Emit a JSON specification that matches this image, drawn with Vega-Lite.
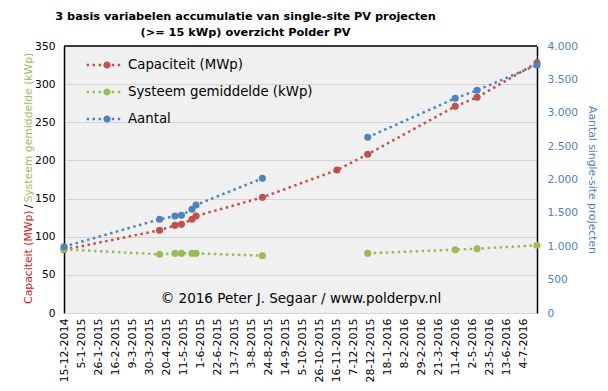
{
  "$schema": "https://vega.github.io/schema/vega-lite/v6.json",
  "width": 473,
  "height": 267,
  "autosize": {"type": "none"},
  "padding": {"left": 64, "top": 46, "right": 71, "bottom": 78},
  "background": "white",
  "title": {
    "text": ["3 basis variabelen accumulatie van single-site PV projecten", "(>= 15 kWp) overzicht Polder PV"],
    "fontSize": 11.3,
    "fontWeight": "bold",
    "color": "black",
    "anchor": "middle",
    "frame": "group",
    "dx": -55,
    "offset": 2,
    "lineHeight": 16
  },
  "data": {
    "values": [
      {"date": "2014-12-15", "cap": 82.9, "avg": 83.5, "aantal": 993},
      {"date": "2015-04-12", "cap": 108.4, "avg": 76.9, "aantal": 1404},
      {"date": "2015-05-01", "cap": 114.9, "avg": 78.2, "aantal": 1453},
      {"date": "2015-05-09", "cap": 116.2, "avg": 78.2, "aantal": 1463},
      {"date": "2015-05-22", "cap": 122.8, "avg": 78.2, "aantal": 1553},
      {"date": "2015-05-27", "cap": 127.1, "avg": 78.2, "aantal": 1618},
      {"date": "2015-08-17", "cap": 151.6, "avg": 75.1, "aantal": 2018},
      {"date": "2015-11-17", "cap": 187.4, "avg": null, "aantal": null},
      {"date": "2015-12-25", "cap": 208.0, "avg": 78.2, "aantal": 2632},
      {"date": "2016-04-11", "cap": 270.9, "avg": 83.0, "aantal": 3216},
      {"date": "2016-05-08", "cap": 282.7, "avg": 84.3, "aantal": 3336},
      {"date": "2016-07-21", "cap": 328.0, "avg": 88.7, "aantal": 3715}
    ]
  },
  "layer": [
    {
      "encoding": {
        "x": {
          "field": "date", "type": "temporal",
          "scale": {"type": "utc", "domain": [{"year": 2014, "month": 12, "date": 15, "utc": true}, {"year": 2016, "month": 7, "date": 21, "utc": true}]},
          "axis": {
            "values": [
              {"year": 2014, "month": 12, "date": 15, "utc": true},
              {"year": 2015, "month": 1, "date": 5, "utc": true},
              {"year": 2015, "month": 1, "date": 26, "utc": true},
              {"year": 2015, "month": 2, "date": 16, "utc": true},
              {"year": 2015, "month": 3, "date": 9, "utc": true},
              {"year": 2015, "month": 3, "date": 30, "utc": true},
              {"year": 2015, "month": 4, "date": 20, "utc": true},
              {"year": 2015, "month": 5, "date": 11, "utc": true},
              {"year": 2015, "month": 6, "date": 1, "utc": true},
              {"year": 2015, "month": 6, "date": 22, "utc": true},
              {"year": 2015, "month": 7, "date": 13, "utc": true},
              {"year": 2015, "month": 8, "date": 3, "utc": true},
              {"year": 2015, "month": 8, "date": 24, "utc": true},
              {"year": 2015, "month": 9, "date": 14, "utc": true},
              {"year": 2015, "month": 10, "date": 5, "utc": true},
              {"year": 2015, "month": 10, "date": 26, "utc": true},
              {"year": 2015, "month": 11, "date": 16, "utc": true},
              {"year": 2015, "month": 12, "date": 7, "utc": true},
              {"year": 2015, "month": 12, "date": 28, "utc": true},
              {"year": 2016, "month": 1, "date": 18, "utc": true},
              {"year": 2016, "month": 2, "date": 8, "utc": true},
              {"year": 2016, "month": 2, "date": 29, "utc": true},
              {"year": 2016, "month": 3, "date": 21, "utc": true},
              {"year": 2016, "month": 4, "date": 11, "utc": true},
              {"year": 2016, "month": 5, "date": 2, "utc": true},
              {"year": 2016, "month": 5, "date": 23, "utc": true},
              {"year": 2016, "month": 6, "date": 13, "utc": true},
              {"year": 2016, "month": 7, "date": 4, "utc": true}
            ],
            "tickCount": 40,
            "format": "%-d-%-m-%Y",
            "labelOverlap": false,
            "title": "© 2016 Peter J. Segaar / www.polderpv.nl",
            "titleFontSize": 13.5, "titleFontWeight": "normal", "titleColor": "black",
            "titleX": 236.5, "titleY": -11, "titleAlign": "center", "titleBaseline": "alphabetic", "titleAngle": 0
          }
        },
        "y": {
          "field": "cap", "type": "quantitative",
          "scale": {"domain": [0, 350], "nice": false},
          "axis": {
            "orient": "left",
            "values": [0, 50, 100, 150, 200, 250, 300, 350],
            "labelPadding": 9, "labelFontSize": 10.7, "labelColor": "black",
            "ticks": false, "domainColor": "black", "domainWidth": 1.5,
            "grid": true, "gridColor": "#D4D4D4", "gridWidth": 1,
            "title": "Capaciteit (MWp)", "titleColor": "#D02020", "titleFontSize": 10.8, "titleFontWeight": "normal",
            "titleAngle": 270, "titleX": -36, "titleY": 164, "titleAlign": "right", "titleBaseline": "middle"
          }
        }
      },
      "layer": [
        {"mark": {"type": "line", "color": "#C0504D", "strokeWidth": 2.5, "strokeDash": [2.5, 3.5], "strokeCap": "butt", "invalid": "break-paths-show-domains"}},
        {
          "mark": {"type": "point", "filled": true, "size": 50, "opacity": 1},
          "encoding": {
            "color": {
              "datum": "Capaciteit (MWp)",
              "scale": {"domain": ["Capaciteit (MWp)", "Systeem gemiddelde (kWp)", "Aantal"], "range": ["#C0504D", "#9BBB59", "#4F81BD"]},
              "legend": {
                "orient": "none", "legendX": 31, "legendY": 7, "padding": 0, "title": null,
                "labelFontSize": 13.3, "labelColor": "black", "labelLimit": 400, "rowPadding": 8, "labelOffset": 9,
                "symbolSize": 576,
                "symbolType": "M-1.7,-0.1h0.2v0.2h-0.2zM-1.2,-0.1h0.2v0.2h-0.2zM-0.7,-0.1h0.2v0.2h-0.2zM0.4,-0.1h0.2v0.2h-0.2zM0.9,-0.1h0.2v0.2h-0.2zM-0.3,0a0.3,0.3 0 1,0 0.6,0a0.3,0.3 0 1,0 -0.6,0z",
                "symbolStrokeWidth": 0, "symbolOpacity": 1, "direction": "vertical"
              }
            }
          }
        }
      ]
    },
    {
      "encoding": {
        "x": {
          "field": "date", "type": "temporal",
          "scale": {"type": "utc", "domain": [{"year": 2014, "month": 12, "date": 15, "utc": true}, {"year": 2016, "month": 7, "date": 21, "utc": true}]}
        },
        "y": {
          "field": "avg", "type": "quantitative",
          "scale": {"domain": [0, 350], "nice": false},
          "axis": {
            "orient": "left", "labels": false, "ticks": false, "domain": false, "grid": false,
            "title": "Systeem gemiddelde (kWp)", "titleColor": "#9BBB59", "titleFontSize": 10.8, "titleFontWeight": "normal",
            "titleAngle": 270, "titleX": -36, "titleY": 156, "titleAlign": "left", "titleBaseline": "middle"
          }
        }
      },
      "layer": [
        {"mark": {"type": "line", "color": "#9BBB59", "strokeWidth": 2.5, "strokeDash": [2.5, 3.5], "strokeCap": "butt", "invalid": "break-paths-show-domains"}},
        {
          "mark": {"type": "point", "filled": true, "size": 50, "opacity": 1},
          "encoding": {"color": {"datum": "Systeem gemiddelde (kWp)"}}
        }
      ]
    },
    {
      "encoding": {
        "x": {
          "field": "date", "type": "temporal",
          "scale": {"type": "utc", "domain": [{"year": 2014, "month": 12, "date": 15, "utc": true}, {"year": 2016, "month": 7, "date": 21, "utc": true}]}
        },
        "y": {
          "field": "aantal", "type": "quantitative",
          "scale": {"domain": [0, 4000], "nice": false},
          "axis": {
            "orient": "right",
            "values": [0, 500, 1000, 1500, 2000, 2500, 3000, 3500, 4000],
            "format": ",d",
            "labelAlign": "left", "labelPadding": 10, "labelFontSize": 10.7, "labelColor": "#4F81BD",
            "ticks": false, "grid": false, "domainColor": "black", "domainWidth": 1.5,
            "title": "Aantal single-site projecten", "titleColor": "#4F81BD", "titleFontSize": 10.8, "titleFontWeight": "normal",
            "titleAngle": 90, "titleX": 54, "titleY": 133.5, "titleAlign": "center", "titleBaseline": "middle"
          }
        }
      },
      "layer": [
        {"mark": {"type": "line", "color": "#4F81BD", "strokeWidth": 2.5, "strokeDash": [2.5, 3.5], "strokeCap": "butt", "invalid": "break-paths-show-domains"}},
        {
          "mark": {"type": "point", "filled": true, "size": 50, "opacity": 1},
          "encoding": {"color": {"datum": "Aantal"}}
        }
      ]
    },
    {
      "data": {"values": [{}]},
      "mark": {"type": "rule", "color": "black", "strokeWidth": 1.5},
      "encoding": {
        "y": {
          "datum": 350, "type": "quantitative",
          "scale": {"domain": [0, 350], "nice": false},
          "axis": {
            "orient": "left", "labels": false, "ticks": false, "domain": false, "grid": false,
            "title": "/", "titleColor": "black", "titleFontSize": 10.8, "titleFontWeight": "normal",
            "titleAngle": 270, "titleX": -36, "titleY": 160, "titleAlign": "center", "titleBaseline": "middle"
          }
        }
      }
    }
  ],
  "resolve": {"scale": {"y": "independent"}},
  "config": {
    "font": "DejaVu Sans",
    "view": {"stroke": null, "fill": "#F0F0F0"},
    "axisX": {
      "labelAngle": 270, "labelAlign": "right", "labelBaseline": "middle",
      "labelPadding": 5, "labelFontSize": 11, "labelColor": "black",
      "labelOverlap": false, "labelFlush": false, "labelBound": false,
      "ticks": false, "domain": false, "grid": false
    },
    "locale": {"number": {"decimal": ",", "thousands": ".", "grouping": [3], "currency": ["€", ""]}}
  }
}
